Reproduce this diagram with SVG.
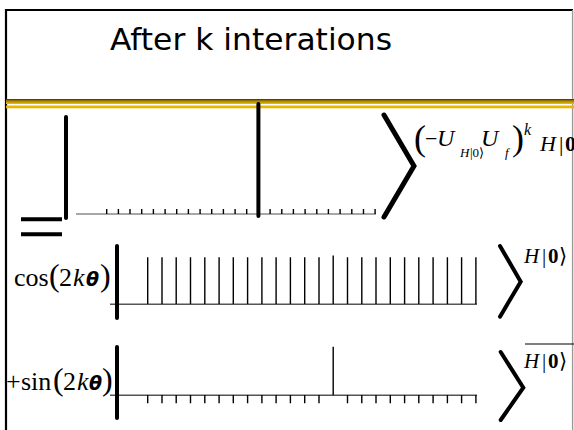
<svg xmlns="http://www.w3.org/2000/svg" width="574" height="430" viewBox="0 0 574 430">
<defs>
<linearGradient id="gold1" x1="0" y1="0" x2="0" y2="1">
<stop offset="0" stop-color="#3a2a00"/>
<stop offset="0.35" stop-color="#a07c00"/>
<stop offset="1" stop-color="#f0c000"/>
</linearGradient>
</defs>
<style>
.frame{stroke:#000;stroke-width:2.2;fill:none}
.axis1{stroke:#8a8a8a;stroke-width:1.6;fill:none}
.axis{stroke:#555;stroke-width:1.5;fill:none}
.tick{stroke:#000;stroke-width:1.4;fill:none}
.bar{stroke:#000;stroke-width:4;fill:none;stroke-linecap:round}
.brk{stroke:#000;fill:none;stroke-linecap:round;stroke-linejoin:miter}
.title{font-family:"DejaVu Sans",sans-serif;font-size:31px;fill:#000}
.m{font-family:"Liberation Serif",serif;fill:#000}
.i{font-style:italic}
.b{font-weight:bold}
.th{font-family:"DejaVu Sans",sans-serif;font-style:italic;font-weight:bold}
</style>
<rect x="0" y="0" width="574" height="430" fill="#fff"/>
<g id="frame">
<path class="frame" d="M6 430V10H573"/>
<path d="M572.6 10V430" stroke="#999" stroke-width="1.4"/>
<rect x="6" y="99" width="568" height="5" fill="url(#gold1)"/>
<rect x="6" y="105.5" width="568" height="2.8" fill="#e8b800"/>
</g>
<g id="title">
<text class="title" x="110" y="50" textLength="282" lengthAdjust="spacingAndGlyphs">After k interations</text>
</g>
<g id="row1">
<path class="bar" d="M66 117V218"/>
<path d="M21 219.3H62M21 234.3H62" stroke="#000" stroke-width="4"/>
<path class="axis1" d="M76 214H376"/>
<path class="tick" d="M106.7 209V214M118.4 209V214M130 209V214M141.7 209V214M153.4 209V214M165.1 209V214M176.7 209V214M188.4 209V214M200.1 209V214M211.7 209V214M223.4 209V214M235.1 209V214M246.7 209V214M270.1 209V214M281.8 209V214M293.4 209V214M305.1 209V214M316.8 209V214M328.4 209V214M340.1 209V214M351.8 209V214M363.5 209V214M375.1 209V214"/>
<path class="bar" d="M258.4 104V216" stroke-linecap="butt"/>
<path class="brk" stroke-width="5" d="M384 115L414 166L384 217"/>
<text class="m" y="150"><tspan x="414" font-size="36">(</tspan><tspan x="425" y="146" font-size="22">−</tspan><tspan x="437" y="146" font-size="24" class="i">U</tspan><tspan x="460" y="157" font-size="13" class="i">H</tspan><tspan x="470" y="157" font-size="13">|0⟩</tspan><tspan x="481" y="146" font-size="24" class="i">U</tspan><tspan x="505" y="157" font-size="13" class="i">f</tspan><tspan x="512" y="150" font-size="36">)</tspan><tspan x="524" y="135" font-size="16" class="i">k</tspan><tspan x="540" y="151" font-size="22" class="i">H</tspan><tspan x="559" y="151" font-size="22">|</tspan><tspan x="565" y="151" font-size="22" class="b">0</tspan></text>
</g>
<g id="row2">
<text class="m" y="286" font-size="26"><tspan x="14">cos</tspan><tspan x="49" font-size="32">(</tspan><tspan x="59">2</tspan><tspan x="73" class="i">k</tspan><tspan x="86" class="th" font-size="19">θ</tspan><tspan x="100" font-size="32">)</tspan></text>
<path class="axis" d="M110 304.3H477"/>
<path class="tick" d="M147.7 257.3V304M162 257.3V304M176.2 257.3V304M190.5 257.3V304M204.8 257.3V304M219.1 257.3V304M233.3 257.3V304M247.6 257.3V304M261.9 257.3V304M276.1 257.3V304M290.4 257.3V304M304.7 257.3V304M319 257.3V304M333.2 255.5V304M347.5 257.3V304M361.8 257.3V304M376 257.3V304M390.3 257.3V304M404.6 257.3V304M418.8 257.3V304M433.1 257.3V304M447.4 257.3V304M461.6 257.3V304M475.9 257.3V304"/>
<path class="bar" d="M117 246V318"/>
<path class="brk" stroke-width="4" d="M500 246L520.7 281.7L500 316.7"/>
<text class="m" y="263" font-size="21"><tspan x="524" class="i">H</tspan><tspan x="542">|</tspan><tspan x="548" class="b">0</tspan><tspan x="559">⟩</tspan></text>
</g>
<g id="row3">
<text class="m" y="390" font-size="26"><tspan x="6">+</tspan><tspan x="21">sin</tspan><tspan x="53" font-size="32">(</tspan><tspan x="63">2</tspan><tspan x="77" class="i">k</tspan><tspan x="89" class="th" font-size="19">θ</tspan><tspan x="102" font-size="32">)</tspan></text>
<path class="axis" d="M110 395.3H477"/>
<path class="tick" d="M147.7 395V403.3M162 395V403.3M176.2 395V403.3M190.5 395V403.3M204.8 395V403.3M219.1 395V403.3M233.3 395V403.3M247.6 395V403.3M261.9 395V403.3M276.1 395V403.3M290.4 395V403.3M304.7 395V403.3M319 395V403.3M347.5 395V403.3M361.8 395V403.3M376 395V403.3M390.3 395V403.3M404.6 395V403.3M418.8 395V403.3M433.1 395V403.3M447.4 395V403.3M461.6 395V403.3M475.9 395V403.3"/>
<path class="tick" d="M333.2 346.7V395.3"/>
<path class="bar" d="M117 347V418"/>
<path class="brk" stroke-width="4" d="M500.7 352L523.3 387.7L500.7 420"/>
<path d="M525 344H574" stroke="#000" stroke-width="1.2"/>
<text class="m" y="368" font-size="21"><tspan x="524" class="i">H</tspan><tspan x="542">|</tspan><tspan x="548" class="b">0</tspan><tspan x="559">⟩</tspan></text>
</g>
</svg>
